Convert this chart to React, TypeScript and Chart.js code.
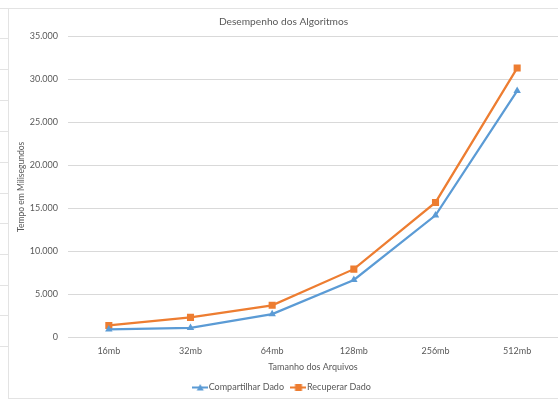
import React, { useEffect, useRef } from 'react';
import { Chart, registerables } from 'chart.js';

Chart.register(...registerables);

const categories = ['16mb', '32mb', '64mb', '128mb', '256mb', '512mb'];
const compartilharDado = [950, 1120, 2720, 6690, 14200, 28650];
const recuperarDado = [1400, 2340, 3740, 7940, 15690, 31300];
const yMin = 0;
const yMax = 35000;
const yStep = 5000;

const BLUE = '#5B9BD5';
const ORANGE = '#ED7D31';
const TEXT = '#595959';
const GRID = '#d9d9d9';
const FONT = 'Lato, "Open Sans", sans-serif';

function legendIcon(color: string, shape: string) {
  const c = document.createElement('canvas');
  c.width = 16;
  c.height = 9;
  const ctx = c.getContext('2d')!;
  ctx.strokeStyle = color;
  ctx.lineWidth = 2;
  ctx.beginPath();
  ctx.moveTo(0, 4.5);
  ctx.lineTo(16, 4.5);
  ctx.stroke();
  ctx.fillStyle = color;
  if (shape === 'triangle') {
    ctx.beginPath();
    ctx.moveTo(8, 1);
    ctx.lineTo(11.5, 7.5);
    ctx.lineTo(4.5, 7.5);
    ctx.closePath();
    ctx.fill();
  } else {
    ctx.fillRect(4.5, 1, 7, 7);
  }
  return c;
}

function fmt(v: number) {
  return String(v).replace(/\B(?=(\d{3})+(?!\d))/g, '.');
}

export default function App() {
  const ref = useRef<HTMLCanvasElement>(null);
  useEffect(() => {
    const icons = [legendIcon(BLUE, 'triangle'), legendIcon(ORANGE, 'rect')];
    const chart = new Chart(ref.current!, {
      type: 'line',
      data: {
        labels: categories,
        datasets: [
          {
            label: 'Compartilhar Dado',
            data: compartilharDado,
            borderColor: BLUE,
            backgroundColor: BLUE,
            borderWidth: 2.25,
            pointStyle: 'triangle',
            pointRadius: 4.3,
            pointBorderWidth: 0,
            tension: 0,
          },
          {
            label: 'Recuperar Dado',
            data: recuperarDado,
            borderColor: ORANGE,
            backgroundColor: ORANGE,
            borderWidth: 2.25,
            pointStyle: 'rect',
            pointRadius: 5,
            pointBorderWidth: 0,
            tension: 0,
          },
        ],
      },
      options: {
        responsive: false,
        animation: false,
        layout: { padding: { left: 0, right: 8, top: 0, bottom: 0 } },
        plugins: {
          title: {
            display: true,
            text: 'Desempenho dos Algoritmos',
            color: TEXT,
            font: { family: FONT, size: 10.2, weight: 'normal' },
            padding: { top: 7, bottom: 8 },
          },
          legend: {
            position: 'bottom',
            labels: {
              color: TEXT,
              font: { family: FONT, size: 9 },
              usePointStyle: true,
              pointStyleWidth: 8,
              padding: 10.5,
              generateLabels: (ch: any) =>
                ch.data.datasets.map((ds: any, i: number) => ({
                  text: ds.label,
                  fillStyle: ds.borderColor,
                  strokeStyle: ds.borderColor,
                  fontColor: TEXT,
                  lineWidth: 0,
                  pointStyle: icons[i],
                  hidden: false,
                  datasetIndex: i,
                })),
            },
          },
          tooltip: { enabled: false },
        },
        scales: {
          x: {
            offset: true,
            grid: { display: false, drawTicks: false, offset: true },
            border: { display: false },
            ticks: { color: TEXT, font: { family: FONT, size: 9 }, padding: 8 },
            title: {
              display: true,
              text: 'Tamanho dos Arquivos',
              color: TEXT,
              font: { family: FONT, size: 9 },
              padding: { top: 5.5, bottom: 0 },
            },
            afterFit: (s: any) => {
              s.height = 35;
            },
          },
          y: {
            min: yMin,
            max: yMax,
            grid: { color: GRID, lineWidth: 1, drawTicks: false },
            border: { display: false },
            ticks: {
              stepSize: yStep,
              color: TEXT,
              font: { family: FONT, size: 9 },
              padding: 10,
              callback: (v: any) => fmt(Number(v)),
            },
            title: {
              display: true,
              text: 'Tempo em Milisegundos',
              color: TEXT,
              font: { family: FONT, size: 8.5 },
              padding: { top: 7, bottom: 2 },
            },
            afterFit: (s: any) => {
              s.width = 59;
            },
          },
        },
      },
    });
    return () => chart.destroy();
  }, []);

  const rowLines = [38, 69, 100, 131, 162, 193, 223, 254, 285, 315, 346];
  return (
    <div
      style={{
        position: 'fixed',
        left: 0,
        top: 0,
        width: 558,
        height: 399,
        overflow: 'hidden',
        background: '#fff',
      }}
    >
      <div style={{ position: 'absolute', left: 0, top: 8, width: 558, height: 1, background: '#e3e3e3' }} />
      <div style={{ position: 'absolute', left: 8, top: 8, width: 1, height: 391, background: '#e3e3e3' }} />
      <div style={{ position: 'absolute', left: 8, top: 398, width: 550, height: 1, background: '#e3e3e3' }} />
      {rowLines.map((y) => (
        <div key={y} style={{ position: 'absolute', left: 0, top: y, width: 8, height: 1, background: '#e3e3e3' }} />
      ))}
      <div style={{ position: 'absolute', left: 9, top: 9 }}>
        <canvas ref={ref} width={557} height={393} style={{ display: 'block' }} />
      </div>
    </div>
  );
}
